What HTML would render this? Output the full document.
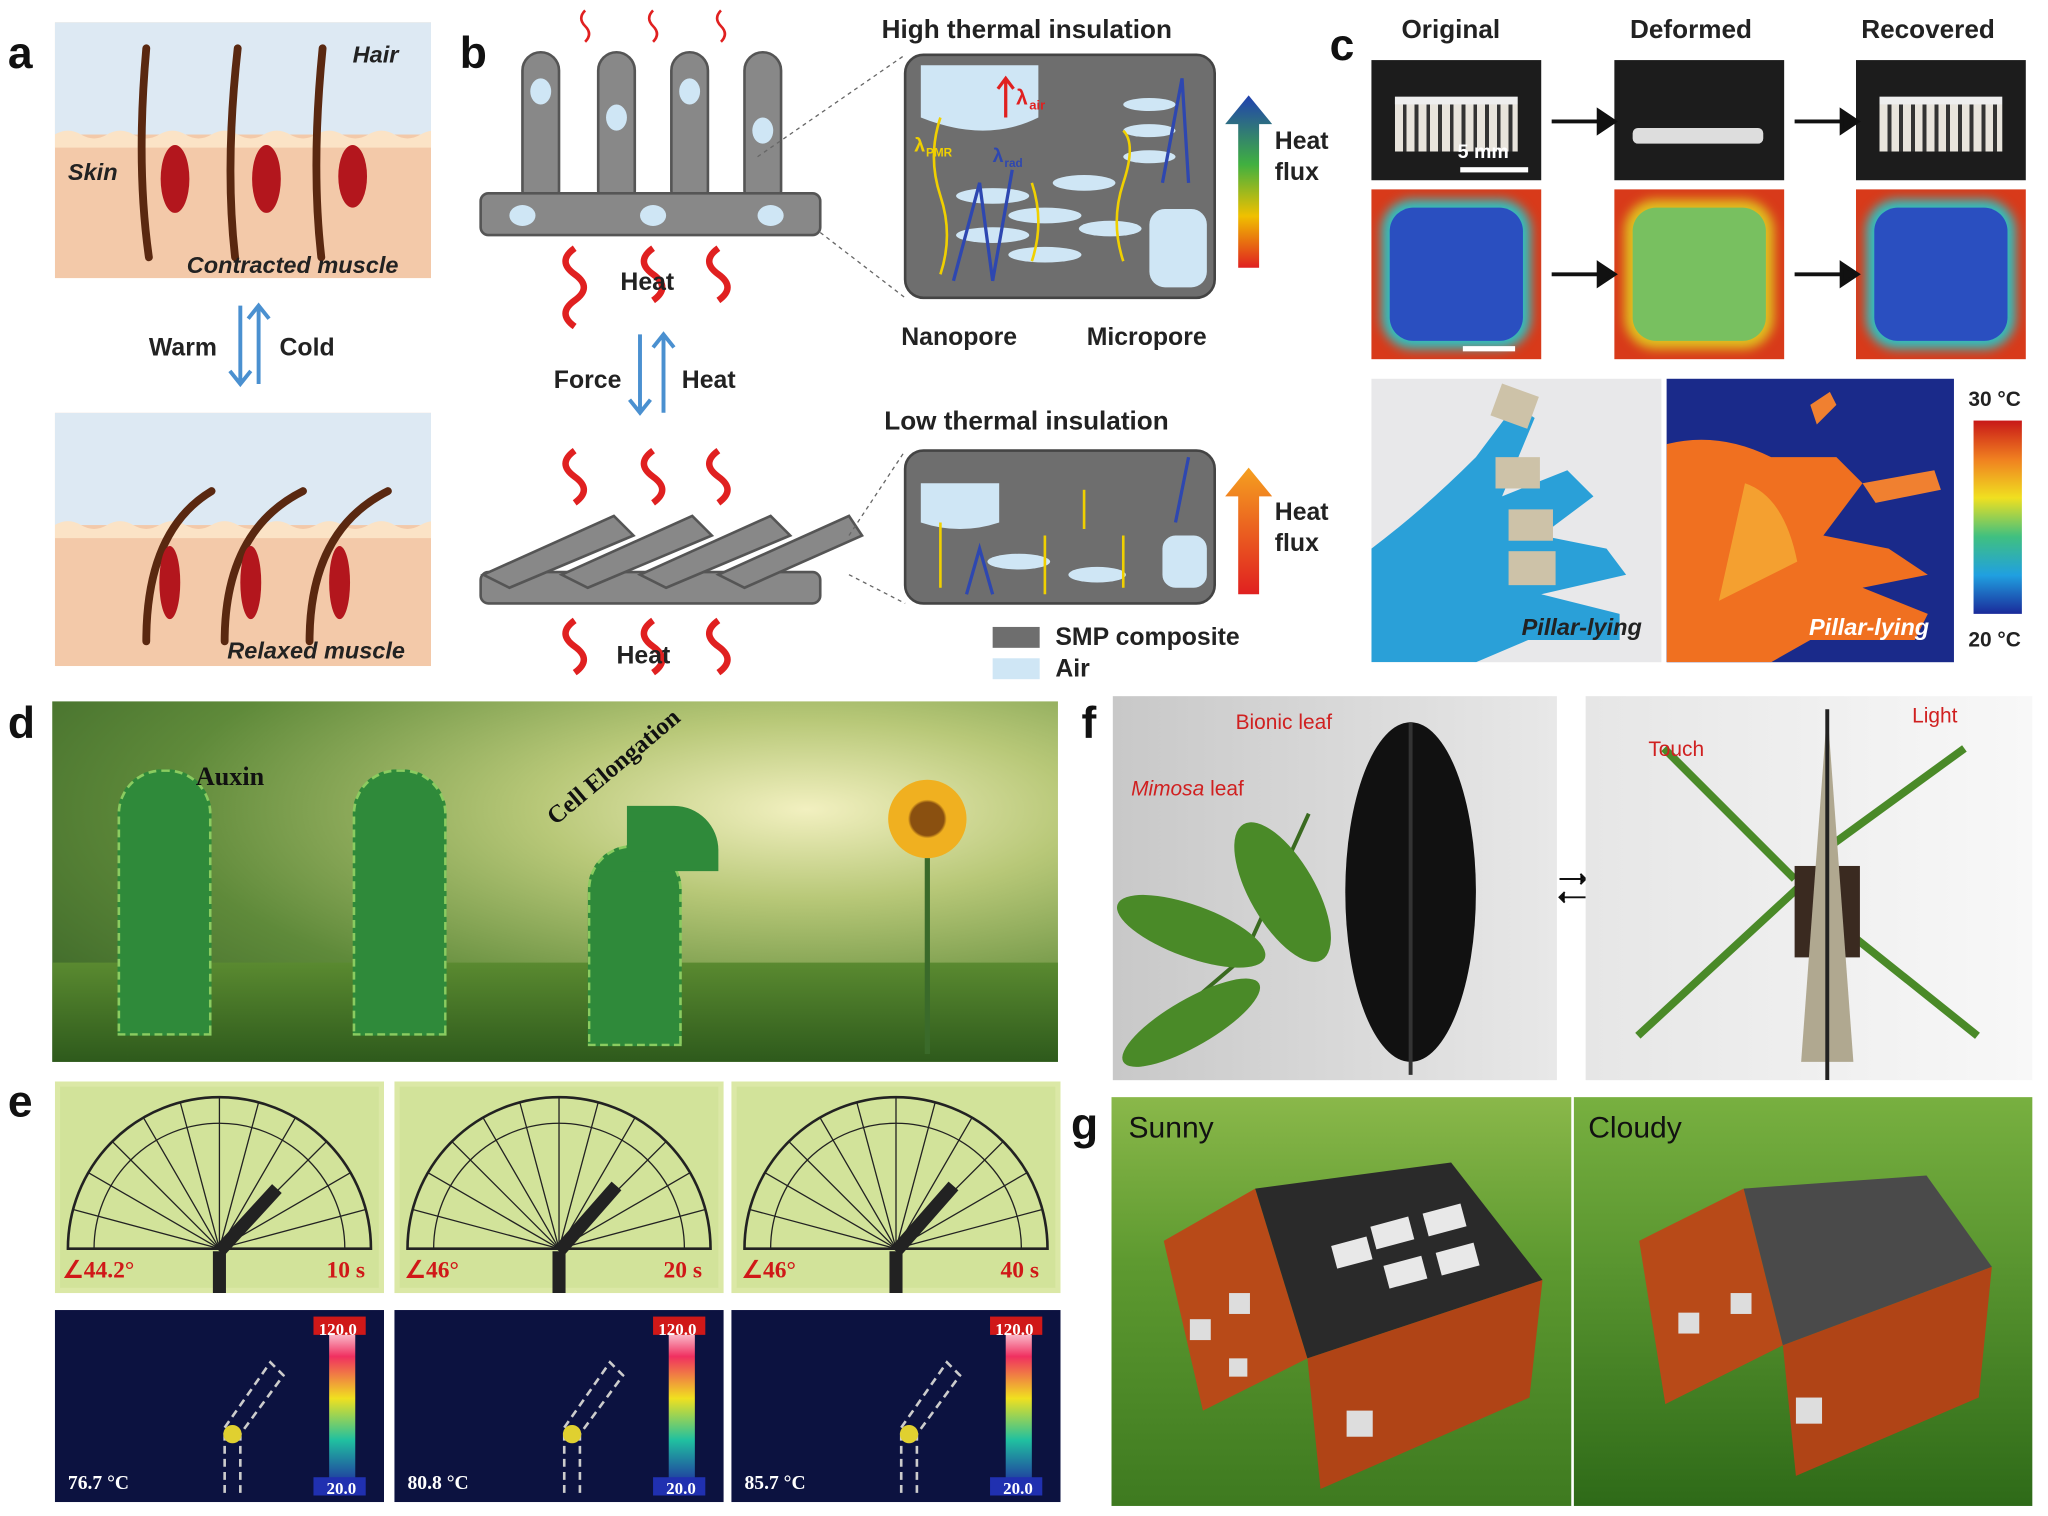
<!DOCTYPE html>
<html><head><meta charset="utf-8"><style>
html,body{margin:0;padding:0;background:#fff;width:2048px;height:1516px;overflow:hidden}
#w{position:absolute;left:0;top:0;width:1568px;height:1161px;transform:scale(1.30612);transform-origin:0 0;font-family:"Liberation Sans",sans-serif}
.a{position:absolute}
.L{position:absolute;font-weight:bold;font-size:34px;color:#111}
.t{position:absolute;font-weight:bold;font-size:19px;color:#222;white-space:nowrap}
.cb{position:absolute;font-family:'Liberation Serif',serif;font-weight:bold;color:#fff;font-size:13px}
</style></head><body><div id="w">
<div class="L" style="left:6px;top:22px">a</div>
<div class="L" style="left:352px;top:22px">b</div>
<div class="L" style="left:1018px;top:16px">c</div>
<div class="L" style="left:6px;top:535px">d</div>
<div class="L" style="left:6px;top:825px">e</div>
<div class="L" style="left:828px;top:535px">f</div>
<div class="L" style="left:820px;top:842px">g</div>

<!-- panel a -->
<svg class="a" style="left:42px;top:17px" width="288" height="196">
<rect width="288" height="196" fill="#f3c9a9"/><rect width="288" height="86" fill="#dde9f3"/>
<path d="M0 86 q10 -6 20 0 t20 0 t20 0 t20 0 t20 0 t20 0 t20 0 t20 0 t20 0 t20 0 t20 0 t20 0 t20 0 t20 0 t20 0 v10 H0z" fill="#fbe3c6"/>
<g stroke="#5a2810" stroke-width="6" fill="none" stroke-linecap="round">
<path d="M70 20 Q62 110 72 180"/><path d="M140 20 Q130 110 138 180"/><path d="M205 20 Q196 110 204 180"/></g>
<g fill="#b3161d"><ellipse cx="92" cy="120" rx="11" ry="26"/><ellipse cx="162" cy="120" rx="11" ry="26"/><ellipse cx="228" cy="118" rx="11" ry="24"/></g>
</svg>
<div class="t" style="left:270px;top:32px;font-style:italic;font-size:18px">Hair</div>
<div class="t" style="left:52px;top:122px;font-style:italic;font-size:18px">Skin</div>
<div class="t" style="left:143px;top:193px;font-style:italic;font-size:18px">Contracted muscle</div>
<svg class="a" style="left:42px;top:316px" width="288" height="194">
<rect width="288" height="194" fill="#f3c9a9"/><rect width="288" height="86" fill="#dde9f3"/>
<path d="M0 86 q10 -6 20 0 t20 0 t20 0 t20 0 t20 0 t20 0 t20 0 t20 0 t20 0 t20 0 t20 0 t20 0 t20 0 t20 0 t20 0 v10 H0z" fill="#fbe3c6"/>
<g stroke="#5a2810" stroke-width="6" fill="none" stroke-linecap="round">
<path d="M70 175 Q70 90 120 60"/><path d="M130 175 Q130 90 190 60"/><path d="M195 175 Q195 90 255 60"/></g>
<g fill="#b3161d"><ellipse cx="88" cy="130" rx="8" ry="28"/><ellipse cx="150" cy="130" rx="8" ry="28"/><ellipse cx="218" cy="130" rx="8" ry="28"/></g>
</svg>
<div class="t" style="left:174px;top:488px;font-style:italic;font-size:18px">Relaxed muscle</div>
<svg class="a" style="left:170px;top:228px" width="40" height="72"><g stroke="#4a90d0" stroke-width="3" fill="none"><path d="M14 6v60M6 56l8 10 8-10"/><path d="M28 66v-60M20 16l8-10 8 10"/></g></svg>
<div class="t" style="left:114px;top:256px">Warm</div><div class="t" style="left:214px;top:256px">Cold</div>

<!-- panel b -->
<svg class="a" style="left:360px;top:0px" width="640" height="530">
<g fill="#888" stroke="#555" stroke-width="2">
<rect x="40" y="40" width="28" height="120" rx="14"/><rect x="98" y="40" width="28" height="120" rx="14"/><rect x="154" y="40" width="28" height="120" rx="14"/><rect x="210" y="40" width="28" height="120" rx="14"/>
<rect x="8" y="148" width="260" height="32" rx="6"/>
<rect x="8" y="438" width="260" height="24" rx="6"/>
<path d="M10 440 L110 395 L125 410 L30 450z"/><path d="M70 440 L170 395 L185 410 L90 450z"/><path d="M130 440 L230 395 L245 410 L150 450z"/><path d="M190 440 L290 395 L300 410 L210 450z"/>
</g>
<g fill="#cfe6f5"><ellipse cx="54" cy="70" rx="8" ry="10"/><ellipse cx="112" cy="90" rx="8" ry="10"/><ellipse cx="168" cy="70" rx="8" ry="10"/><ellipse cx="224" cy="100" rx="8" ry="10"/><ellipse cx="40" cy="165" rx="10" ry="8"/><ellipse cx="140" cy="165" rx="10" ry="8"/><ellipse cx="230" cy="165" rx="10" ry="8"/></g>
<g stroke="#e02020" stroke-width="5" fill="none"><path d="M80 190 q-14 10 0 20 t0 20 t0 20"/><path d="M140 190 q-14 10 0 20 t0 20"/><path d="M190 190 q-14 10 0 20 t0 20"/>
<path d="M80 345 q-14 10 0 20 t0 20"/><path d="M140 345 q-14 10 0 20 t0 20"/><path d="M190 345 q-14 10 0 20 t0 20"/>
<path d="M80 475 q-14 10 0 20 t0 20"/><path d="M140 475 q-14 10 0 20 t0 20"/><path d="M190 475 q-14 10 0 20 t0 20"/></g>
<g stroke="#e02020" stroke-width="2" fill="none"><path d="M88 8 q-6 6 0 12 t0 12"/><path d="M140 8 q-6 6 0 12 t0 12"/><path d="M192 8 q-6 6 0 12 t0 12"/></g>
<g stroke="#4a90d0" stroke-width="3" fill="none"><path d="M130 256v60M122 306l8 10 8-10"/><path d="M148 316v-60M140 266l8-10 8 10"/></g>
<g stroke="#666" stroke-dasharray="3,3" fill="none"><path d="M220 120 L333 42M268 178 L333 228M290 410 L333 345M290 440 L333 462"/></g>
<rect x="333" y="42" width="237" height="186" rx="14" fill="#6e6e6e" stroke="#444" stroke-width="2"/>
<g fill="#cfe6f5"><path d="M345 50h90v40q-40 20-90 0z"/><rect x="520" y="160" width="44" height="60" rx="12"/>
<ellipse cx="400" cy="150" rx="28" ry="6"/><ellipse cx="440" cy="165" rx="28" ry="6"/><ellipse cx="400" cy="180" rx="28" ry="6"/><ellipse cx="440" cy="195" rx="28" ry="6"/><ellipse cx="470" cy="140" rx="24" ry="6"/><ellipse cx="490" cy="175" rx="24" ry="6"/><ellipse cx="520" cy="80" rx="20" ry="5"/><ellipse cx="520" cy="100" rx="20" ry="5"/><ellipse cx="520" cy="120" rx="20" ry="5"/></g>
<g stroke="#f0d000" stroke-width="2" fill="none"><path d="M360 210 q10-30 0-60 t0-60"/><path d="M430 200 q10-30 0-60"/><path d="M500 200 q-10-30 0-60 t0-40"/></g>
<g stroke="#2e47b0" stroke-width="2.5" fill="none"><path d="M370 215 L390 140 L400 215 L415 130"/><path d="M530 140 L545 60 L550 140"/></g>
<rect x="333" y="345" width="237" height="117" rx="14" fill="#6e6e6e" stroke="#444" stroke-width="2"/>
<g fill="#cfe6f5"><path d="M345 370h60v30q-30 10-60 0z"/><ellipse cx="420" cy="430" rx="24" ry="6"/><ellipse cx="480" cy="440" rx="22" ry="6"/><rect x="530" y="410" width="34" height="40" rx="10"/></g>
<g stroke="#f0d000" stroke-width="2" fill="none"><path d="M360 450 v-50"/><path d="M440 455 v-45"/><path d="M500 450 v-40"/><path d="M470 405 v-30"/></g>
<g stroke="#2e47b0" stroke-width="2.5" fill="none"><path d="M380 455 L390 420 L400 455"/><path d="M540 400 L550 350"/></g>
<path d="M410 90 v-28 M404 68 l6-8 6 8" stroke="#e02020" stroke-width="2.5" fill="none"/>
<text x="418" y="80" font-family="Liberation Sans" font-weight="bold" font-size="16" fill="#e02020">λ</text><text x="428" y="84" font-family="Liberation Sans" font-weight="bold" font-size="10" fill="#e02020">air</text>
<text x="340" y="116" font-family="Liberation Sans" font-weight="bold" font-size="15" fill="#f0d000">λ</text><text x="349" y="120" font-family="Liberation Sans" font-weight="bold" font-size="9" fill="#f0d000">PMR</text>
<text x="400" y="124" font-family="Liberation Sans" font-weight="bold" font-size="15" fill="#2e47b0">λ</text><text x="409" y="128" font-family="Liberation Sans" font-weight="bold" font-size="9" fill="#2e47b0">rad</text>
<defs><linearGradient id="hf" x1="0" y1="1" x2="0" y2="0"><stop offset="0" stop-color="#e02020"/><stop offset=".3" stop-color="#f0c000"/><stop offset=".6" stop-color="#40b040"/><stop offset="1" stop-color="#2040b0"/></linearGradient>
<linearGradient id="hf2" x1="0" y1="1" x2="0" y2="0"><stop offset="0" stop-color="#e02020"/><stop offset="1" stop-color="#f5a020"/></linearGradient></defs>
<path d="M588 205 V95 h-10 l18-22 18 22 h-10 V205z" fill="url(#hf)"/>
<path d="M588 455 V380 h-10 l18-22 18 22 h-10 V455z" fill="url(#hf2)"/>
<rect x="400" y="480" width="36" height="16" fill="#6e6e6e"/><rect x="400" y="504" width="36" height="16" fill="#cfe6f5"/>
</svg>
<div class="t" style="left:675px;top:12px;font-size:20px">High thermal insulation</div>
<div class="t" style="left:677px;top:312px;font-size:20px">Low thermal insulation</div>
<div class="t" style="left:475px;top:206px">Heat</div><div class="t" style="left:472px;top:492px">Heat</div>
<div class="t" style="left:424px;top:281px">Force</div><div class="t" style="left:522px;top:281px">Heat</div>
<div class="t" style="left:690px;top:248px">Nanopore</div><div class="t" style="left:832px;top:248px">Micropore</div>
<div class="t" style="left:976px;top:97px;line-height:24px">Heat<br>flux</div>
<div class="t" style="left:976px;top:381px;line-height:24px">Heat<br>flux</div>
<div class="t" style="left:808px;top:478px">SMP composite</div><div class="t" style="left:808px;top:502px">Air</div>

<!-- panel c -->
<div class="t" style="left:1073px;top:12px;font-size:20px">Original</div>
<div class="t" style="left:1248px;top:12px;font-size:20px">Deformed</div>
<div class="t" style="left:1425px;top:12px;font-size:20px">Recovered</div>
<div class="a" style="left:1050px;top:46px;width:130px;height:92px;background:#1c1c1c"><div class="a" style="left:18px;top:28px;width:94px;height:36px;background:repeating-linear-gradient(90deg,#e8e4dc 0 6px,#333 6px 9px);border-top:6px solid #eee"></div><div class="a" style="left:66px;top:62px;color:#fff;font-weight:bold;font-size:15px">5 mm</div><div class="a" style="left:68px;top:82px;width:52px;height:4px;background:#fff"></div></div>
<div class="a" style="left:1236px;top:46px;width:130px;height:92px;background:#1c1c1c"><div class="a" style="left:14px;top:52px;width:100px;height:12px;background:#ddd;border-radius:4px"></div></div>
<div class="a" style="left:1421px;top:46px;width:130px;height:92px;background:#1c1c1c"><div class="a" style="left:18px;top:28px;width:94px;height:36px;background:repeating-linear-gradient(90deg,#e8e4dc 0 6px,#333 6px 9px);border-top:6px solid #eee"></div></div>
<div class="a" style="left:1050px;top:145px;width:130px;height:130px;background:#d83a1a;overflow:hidden"><div class="a" style="left:14px;top:14px;width:102px;height:102px;border-radius:18px;background:#2a4fc0;box-shadow:0 0 8px 6px #30c0c0"></div><div class="a" style="left:70px;top:120px;width:40px;height:4px;background:#fff"></div></div>
<div class="a" style="left:1236px;top:145px;width:130px;height:130px;background:#d83a1a;overflow:hidden"><div class="a" style="left:14px;top:14px;width:102px;height:102px;border-radius:18px;background:#78c060;box-shadow:0 0 8px 6px #e0c020"></div></div>
<div class="a" style="left:1421px;top:145px;width:130px;height:130px;background:#d83a1a;overflow:hidden"><div class="a" style="left:14px;top:14px;width:102px;height:102px;border-radius:18px;background:#2a4fc0;box-shadow:0 0 8px 6px #30c0c0"></div></div>
<svg class="a" style="left:1180px;top:75px" width="250" height="150"><g fill="#111" stroke="#111" stroke-width="3"><path d="M8 18h36"/><path d="M44 10l12 8-12 8z"/><path d="M194 18h36"/><path d="M230 10l12 8-12 8z"/><path d="M8 135h36"/><path d="M44 127l12 8-12 8z"/><path d="M194 135h36"/><path d="M230 127l12 8-12 8z"/></g></svg>
<div class="a" style="left:1050px;top:290px;width:222px;height:217px;background:#e8e8ea;overflow:hidden">
<svg width="222" height="217"><path d="M0 217 L0 130 Q40 100 80 60 L110 20 L125 30 L100 90 L150 70 L170 90 L130 120 L180 130 L195 150 L130 165 L190 180 L190 200 L120 200 L80 217z" fill="#2aa0d8"/><g fill="#cdc2a8"><rect x="95" y="8" width="30" height="26" transform="rotate(20 110 20)"/><rect x="95" y="60" width="34" height="24"/><rect x="105" y="100" width="34" height="24"/><rect x="105" y="132" width="36" height="26"/></g></svg></div>
<div class="a" style="left:1276px;top:290px;width:220px;height:217px;background:#1a2a8a;overflow:hidden">
<svg width="220" height="217"><path d="M0 217 L0 50 Q40 40 80 60 L130 60 L150 80 L120 120 L170 130 L200 150 L150 160 L200 180 L190 200 L110 200 L80 217z" fill="#f07020"/><path d="M60 80 Q90 90 100 140 L40 170 Z" fill="#f4a030"/><path d="M110 20l15-10 5 10-15 15z" fill="#f08030"/><path d="M150 80 L205 70 L210 85 L160 95z" fill="#f08030"/></svg></div>
<div class="t" style="left:1165px;top:470px;font-style:italic;font-size:18px">Pillar-lying</div>
<div class="t" style="left:1385px;top:470px;font-style:italic;font-size:18px;color:#fff">Pillar-lying</div>
<div class="a" style="left:1511px;top:322px;width:37px;height:148px;background:linear-gradient(#c81818,#f08020,#f0e020,#40c080,#20a0e0,#1a2a9a)"></div>
<div class="t" style="left:1507px;top:298px;font-size:16px">30 °C</div><div class="t" style="left:1507px;top:482px;font-size:16px">20 °C</div>

<!-- panel d -->
<div class="a" style="left:40px;top:537px;width:770px;height:276px;background:radial-gradient(ellipse at 75% 30%,#f2f0c0 0,#b8c878 25%,#5f8a3a 60%,#2f5a22 100%);overflow:hidden">
<div class="a" style="left:0;top:200px;width:770px;height:76px;background:linear-gradient(#5a8a30,#2e5a1c)"></div>
<div class="a" style="left:50px;top:52px;width:68px;height:200px;border-radius:34px 34px 0 0;background:#2f8a3a;border:2px dashed #8acc60"></div>
<div class="a" style="left:230px;top:52px;width:68px;height:200px;border-radius:34px 34px 0 0;background:#2f8a3a;border:2px dashed #8acc60"></div>
<div class="a" style="left:410px;top:110px;width:68px;height:150px;border-radius:34px 34px 0 0;background:#2f8a3a;border:2px dashed #8acc60"></div>
<div class="a" style="left:440px;top:80px;width:70px;height:50px;border-radius:0 34px 0 0;background:#2f8a3a"></div>
<div class="a" style="left:640px;top:60px;width:60px;height:60px;border-radius:50%;background:radial-gradient(#8a5010 30%,#f0b020 35%)"></div>
<div class="a" style="left:668px;top:120px;width:4px;height:150px;background:#3a6a2a"></div>
</div>
<div class="a" style="left:150px;top:584px;font-family:'Liberation Serif',serif;font-weight:bold;font-size:20px;color:#111">Auxin</div>
<div class="a" style="left:415px;top:620px;font-family:'Liberation Serif',serif;font-weight:bold;font-size:19px;color:#111;transform:rotate(-40deg);transform-origin:0 0">Cell Elongation</div>

<!-- panel e -->
<svg class="a" style="left:42px;top:828px" width="770" height="325">
<defs><g id="pr"><rect width="252" height="162" fill="#dbe8a6"/><rect x="4" y="4" width="244" height="154" fill="#d2e39a"/>
<path d="M10 128 A116 116 0 0 1 242 128 Z" fill="none" stroke="#222" stroke-width="2"/>
<path d="M126 128 L10 128 M126 128 L14 98 M126 128 L26 70 M126 128 L44 46 M126 128 L68 28 M126 128 L96 16 M126 128 L126 12 M126 128 L156 16 M126 128 L184 28 M126 128 L208 46 M126 128 L226 70 M126 128 L238 98 M126 128 L242 128" stroke="#222" stroke-width="1"/>
<path d="M30 128 A96 96 0 0 1 222 128" fill="none" stroke="#222"/>
<path d="M126 162 L126 130" stroke="#222" stroke-width="10"/></g>
<g id="th"><rect width="252" height="147" fill="#0c1240"/><rect x="210" y="10" width="20" height="128" fill="url(#rb)"/><rect x="198" y="5" width="40" height="14" fill="#d01818"/><rect x="198" y="128" width="40" height="14" fill="#2030b0"/></g>
<linearGradient id="rb" x1="0" y1="0" x2="0" y2="1"><stop offset="0" stop-color="#fff"/><stop offset=".2" stop-color="#f03060"/><stop offset=".45" stop-color="#f0e020"/><stop offset=".7" stop-color="#20c0a0"/><stop offset="1" stop-color="#2020a0"/></linearGradient></defs>
<use href="#pr"/><use href="#pr" x="260"/><use href="#pr" x="518"/>
<path d="M126 130 L170 82" stroke="#222" stroke-width="10"/><path d="M386 130 L430 80" stroke="#222" stroke-width="10"/><path d="M644 130 L688 80" stroke="#222" stroke-width="10"/>
<g transform="translate(0,175)"><use href="#th"/><use href="#th" x="260"/><use href="#th" x="518"/>
<path d="M130 140 V90 L165 40 L175 50 L142 95 V140" fill="none" stroke="#ccc" stroke-dasharray="6,4" stroke-width="2"/>
<path d="M390 140 V90 L425 40 L435 50 L402 95 V140" fill="none" stroke="#ccc" stroke-dasharray="6,4" stroke-width="2"/>
<path d="M648 140 V90 L683 40 L693 50 L660 95 V140" fill="none" stroke="#ccc" stroke-dasharray="6,4" stroke-width="2"/>
<circle cx="136" cy="95" r="7" fill="#e0d030"/><circle cx="396" cy="95" r="7" fill="#e0d030"/><circle cx="654" cy="95" r="7" fill="#e0d030"/></g>
</svg>
<div class="cb" style="left:244px;top:1010px">120.0</div><div class="cb" style="left:250px;top:1132px">20.0</div>
<div class="cb" style="left:504px;top:1010px">120.0</div><div class="cb" style="left:510px;top:1132px">20.0</div>
<div class="cb" style="left:762px;top:1010px">120.0</div><div class="cb" style="left:768px;top:1132px">20.0</div>
<div class="a" style="font-family:'Liberation Serif',serif;font-weight:bold;color:#d01818;font-size:18px;left:48px;top:962px">∠44.2°</div>
<div class="a" style="font-family:'Liberation Serif',serif;font-weight:bold;color:#d01818;font-size:18px;left:250px;top:962px">10 s</div>
<div class="a" style="font-family:'Liberation Serif',serif;font-weight:bold;color:#d01818;font-size:18px;left:310px;top:962px">∠46°</div>
<div class="a" style="font-family:'Liberation Serif',serif;font-weight:bold;color:#d01818;font-size:18px;left:508px;top:962px">20 s</div>
<div class="a" style="font-family:'Liberation Serif',serif;font-weight:bold;color:#d01818;font-size:18px;left:568px;top:962px">∠46°</div>
<div class="a" style="font-family:'Liberation Serif',serif;font-weight:bold;color:#d01818;font-size:18px;left:766px;top:962px">40 s</div>
<div class="a" style="font-family:'Liberation Serif',serif;font-weight:bold;color:#fff;font-size:15px;left:52px;top:1128px">76.7 °C</div>
<div class="a" style="font-family:'Liberation Serif',serif;font-weight:bold;color:#fff;font-size:15px;left:312px;top:1128px">80.8 °C</div>
<div class="a" style="font-family:'Liberation Serif',serif;font-weight:bold;color:#fff;font-size:15px;left:570px;top:1128px">85.7 °C</div>

<!-- panel f -->
<div class="a" style="left:852px;top:533px;width:340px;height:294px;background:linear-gradient(90deg,#c8c8c8,#e8e8e8);overflow:hidden">
<svg width="340" height="294"><g stroke="#3a6a20" stroke-width="3"><path d="M150 90 L100 200"/><path d="M100 200 L20 160"/><path d="M100 200 L30 260"/></g>
<g fill="#4a8a28"><ellipse cx="130" cy="150" rx="25" ry="60" transform="rotate(-30 130 150)"/><ellipse cx="60" cy="180" rx="60" ry="20" transform="rotate(20 60 180)"/><ellipse cx="60" cy="250" rx="60" ry="18" transform="rotate(-30 60 250)"/></g>
<ellipse cx="228" cy="150" rx="50" ry="130" fill="#111"/><line x1="228" y1="20" x2="228" y2="290" stroke="#333" stroke-width="3"/></svg></div>
<div class="a" style="left:946px;top:545px;color:#d02020;font-size:16px">Bionic leaf</div>
<div class="a" style="left:866px;top:596px;color:#d02020;font-size:16px"><i>Mimosa</i> leaf</div>
<svg class="a" style="left:1192px;top:665px" width="24" height="30"><g stroke="#111" stroke-width="1.5"><path d="M2 8h20M18 4l4 4-4 4M22 22H2M6 18l-4 4 4 4"/></g></svg>
<div class="a" style="left:1214px;top:533px;width:342px;height:294px;background:linear-gradient(90deg,#e6e6e6,#f8f8f8);overflow:hidden">
<svg width="342" height="294"><g stroke="#4a8a28" stroke-width="6"><path d="M160 140 L60 40"/><path d="M170 140 L40 260"/><path d="M175 160 L300 260"/><path d="M180 120 L290 40"/></g>
<rect x="160" y="130" width="50" height="70" fill="#3a2a20"/><path d="M185 10 L165 280 L205 280z" fill="#b0a890"/><line x1="185" y1="10" x2="185" y2="294" stroke="#222" stroke-width="3"/></svg></div>
<div class="a" style="left:1262px;top:566px;color:#d02020;font-size:16px">Touch</div>
<div class="a" style="left:1464px;top:540px;color:#d02020;font-size:16px">Light</div>

<!-- panel g -->
<div class="a" style="left:851px;top:840px;width:352px;height:313px;background:linear-gradient(#8ab84a,#5e9a30 40%,#3e7a20);overflow:hidden">
<svg width="352" height="313"><path d="M40 110 L110 70 L150 200 L70 240z" fill="#b84a18"/><path d="M150 200 L110 70 L260 50 L330 140z" fill="#2a2a2a"/><path d="M150 200 L330 140 L320 230 L160 300z" fill="#b04416"/>
<g fill="#e8e8e8"><rect x="200" y="95" width="30" height="18" transform="rotate(-15 215 104)"/><rect x="240" y="85" width="30" height="18" transform="rotate(-15 255 94)"/><rect x="210" y="125" width="30" height="18" transform="rotate(-15 225 134)"/><rect x="250" y="115" width="30" height="18" transform="rotate(-15 265 124)"/><rect x="170" y="110" width="28" height="18" transform="rotate(-15 184 119)"/></g>
<g fill="#ddd"><rect x="90" y="150" width="16" height="16"/><rect x="60" y="170" width="16" height="16"/><rect x="180" y="240" width="20" height="20"/><rect x="90" y="200" width="14" height="14"/></g></svg></div>
<div class="a" style="left:1205px;top:840px;width:351px;height:313px;background:linear-gradient(#78b040,#5a9630 40%,#2e6a18);overflow:hidden">
<svg width="351" height="313"><path d="M50 110 L130 70 L160 190 L70 235z" fill="#b84a18"/><path d="M160 190 L130 70 L270 60 L320 130z" fill="#4a4a4a"/><path d="M160 190 L320 130 L310 230 L170 290z" fill="#b04416"/>
<g fill="#ddd"><rect x="120" y="150" width="16" height="16"/><rect x="80" y="165" width="16" height="16"/><rect x="170" y="230" width="20" height="20"/></g></svg></div>
<div class="a" style="left:864px;top:850px;font-size:23px;color:#111">Sunny</div>
<div class="a" style="left:1216px;top:850px;font-size:23px;color:#111">Cloudy</div>
</div></body></html>
